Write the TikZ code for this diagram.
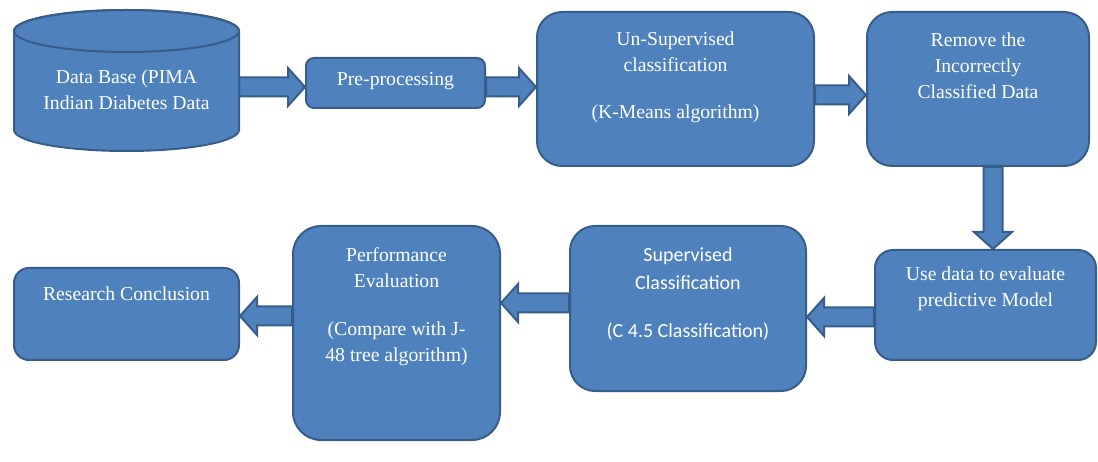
\documentclass[tikz,border=0pt]{standalone}
\usepackage{fontspec}
\setmainfont{Liberation Serif}
\newfontfamily\lserif{Liberation Serif}
\newfontfamily\carlito{Carlito}
\usetikzlibrary{calc,backgrounds}

\definecolor{boxfill}{HTML}{4F81BD}
\definecolor{boxline}{HTML}{385D8A}

\tikzset{
  box/.style={draw=boxline, fill=boxfill, line width=2pt, inner sep=0pt},
  boxtext/.style={text=white, align=center, inner sep=0pt, anchor=north,
    font=\lserif\fontsize{19.7}{26}\selectfont},
  suptext/.style={boxtext, font=\carlito\fontsize{20}{28}\selectfont},
  arrowbody/.style={draw=boxline, fill=boxfill, line width=2pt, line join=miter},
}

% block arrow from #1 (tail) to #2 (tip)
\newcommand\blockarrow[2]{%
  \coordinate (ba-s) at #1;
  \coordinate (ba-t) at #2;
  \coordinate (ba-h) at ($(ba-t)!17pt!(ba-s)$);
  \filldraw[arrowbody] ($(ba-s)!9.5pt!90:(ba-t)$) -- ($(ba-h)!9.5pt!90:(ba-t)$)
    -- ($(ba-h)!19pt!90:(ba-t)$) -- (ba-t) -- ($(ba-h)!19pt!-90:(ba-t)$)
    -- ($(ba-h)!9.5pt!-90:(ba-t)$) -- ($(ba-s)!9.5pt!-90:(ba-t)$) -- cycle;
}

\begin{document}
\begin{tikzpicture}[x=1pt,y=-1pt]
\useasboundingbox (0,0) rectangle (1098,462);

% data base cylinder
\filldraw[arrowbody] (14,31) -- (14,130)
  arc[start angle=180, end angle=0, x radius=112.5, y radius=21]
  -- (239,31) arc[start angle=0, end angle=-180, x radius=112.5, y radius=21] -- cycle;
\draw[boxline, line width=2pt] (126.5,31) ellipse[x radius=112.5, y radius=21];
\node[minimum width=225pt, minimum height=141pt, inner sep=0pt] (db) at (126.5,80.5) {};
\node[boxtext] (db-t) at ($(db.north)+(0,60)$) {Data Base (PIMA\\Indian Diabetes Data};

% boxes
\node[box, minimum width=179pt, minimum height=50pt, rounded corners=8pt] (pre) at (395.5,83) {};
\node[box, minimum width=277pt, minimum height=154pt, rounded corners=25pt] (unsup) at (675.5,89) {};
\node[box, minimum width=222pt, minimum height=154pt, rounded corners=25pt] (remove) at (978,89) {};
\node[box, minimum width=221pt, minimum height=110pt, rounded corners=18pt] (usedata) at (985.5,305) {};
\node[box, minimum width=236pt, minimum height=165pt, rounded corners=25pt] (sup) at (688,308.5) {};
\node[box, minimum width=207pt, minimum height=214pt, rounded corners=28pt] (perf) at (396.5,333) {};
\node[box, minimum width=225pt, minimum height=92pt, rounded corners=15pt] (res) at (126.5,314) {};

% texts
\node[boxtext] (pre-t) at ($(pre.north)+(0,15)$) {Pre-processing};
\node[boxtext] (unsup-t) at ($(unsup.north)+(0,21)$) {Un-Supervised\\classification\\[21pt](K-Means algorithm)};
\node[boxtext] (remove-t) at ($(remove.north)+(0,22)$) {Remove the\\Incorrectly\\Classified Data};
\node[boxtext] (usedata-t) at ($(usedata.north)+(0,18)$) {Use data to evaluate\\predictive Model};
\node[suptext] (sup-t) at ($(sup.north)+(0,22)$) {Supervised\\Classification\\[20pt](C 4.5 Classification)};
\node[boxtext] (perf-t) at ($(perf.north)+(0,22)$) {Performance\\Evaluation\\[22pt](Compare with J-\\48 tree algorithm)};
\node[boxtext] (res-t) at ($(res.north)+(0,20)$) {Research Conclusion};

% arrows
\begin{scope}[on background layer]
\blockarrow{($(db.east|-pre.west)+(0,4)$)}{($(pre.west)+(0,4)$)}
\blockarrow{($(pre.east)+(0,4)$)}{($(pre.east-|unsup.west)+(0,4)$)}
\blockarrow{($(unsup.east)+(0,6)$)}{($(unsup.east-|remove.west)+(0,6)$)}
\blockarrow{($(remove.south)+(15,0)$)}{($(remove.south|-usedata.north)+(15,0)$)}
\blockarrow{($(usedata.west)+(0,12)$)}{($(usedata.west-|sup.east)+(0,12)$)}
\blockarrow{($(sup.west)+(0,-5.5)$)}{($(sup.west-|perf.east)+(0,-5.5)$)}
\blockarrow{($(perf.west)+(0,-17)$)}{($(perf.west-|res.east)+(0,-17)$)}
\end{scope}
\end{tikzpicture}
\end{document}
